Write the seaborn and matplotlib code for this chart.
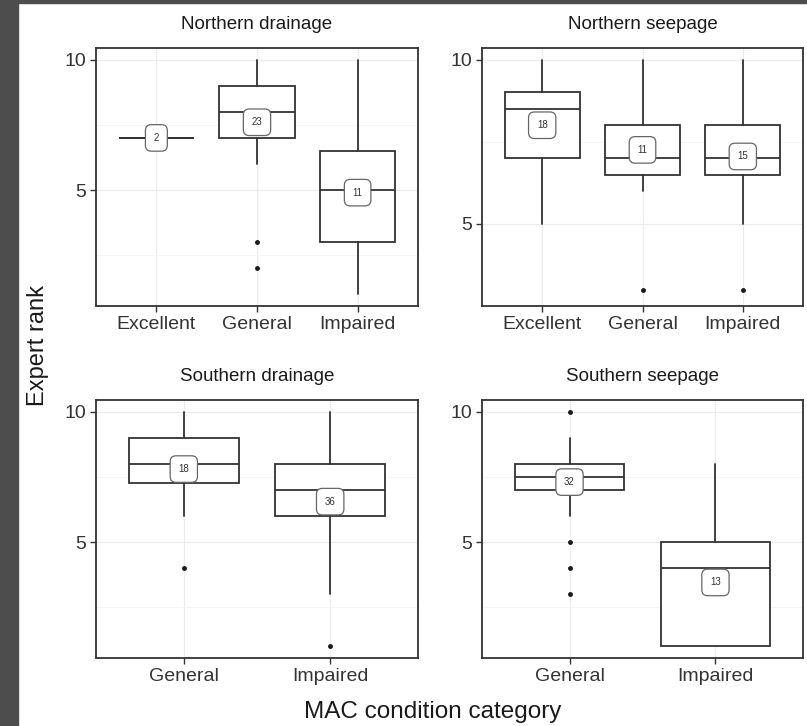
import matplotlib.pyplot as plt
import seaborn as sns
from matplotlib.patches import Rectangle

# values
panel_titles = ["Northern drainage", "Northern seepage", "Southern drainage", "Southern seepage"]
categories = [["Excellent", "General", "Impaired"],
              ["Excellent", "General", "Impaired"],
              ["General", "Impaired"],
              ["General", "Impaired"]]
q1 = [[7, 7, 3], [7, 6.5, 6.5], [7.25, 6], [7, 1]]
medians = [[7, 8, 5], [8.5, 7, 7], [8, 7], [7.5, 4]]
q3 = [[7, 9, 6.5], [9, 8, 8], [9, 8], [8, 5]]
whisker_lo = [[7, 6, 1], [5, 6, 5], [6, 3], [6, 1]]
whisker_hi = [[7, 10, 10], [10, 10, 10], [10, 10], [9, 8]]
outliers = [[[], [3, 2], []], [[], [3], [3]], [[4], [1]], [[10, 5, 4, 3], []]]
counts = [[2, 23, 11], [18, 11, 15], [18, 36], [32, 13]]
means = [[7, 7.6, 4.9], [8.0, 7.25, 7.05], [7.8, 6.55], [7.3, 3.45]]

W, H = 807, 726
panel_px = [(96, 48, 418, 306), (482, 48, 803, 306),
            (96, 400, 418, 658), (482, 400, 803, 658)]

sns.set_theme(style="whitegrid")
plt.rcParams['font.family'] = ['Liberation Sans', 'DejaVu Sans']

dark = "#333333"
fig = plt.figure(figsize=(W / 100, H / 100), dpi=100)
fig.patches.append(Rectangle((0, 0), 18 / W, 1, transform=fig.transFigure,
                             color="#4d4d4d", zorder=0))
fig.patches.append(Rectangle((0, 1 - 3 / H), 1, 3 / H, transform=fig.transFigure,
                             color="#4d4d4d", zorder=0))

for i, title in enumerate(panel_titles):
    x0, y0, x1, y1 = panel_px[i]
    ax = fig.add_axes([x0 / W, 1 - y1 / H, (x1 - x0) / W, (y1 - y0) / H])
    cats = categories[i]
    stats = []
    for j, cat in enumerate(cats):
        stats.append(dict(label=cat, med=medians[i][j], q1=q1[i][j], q3=q3[i][j],
                          whislo=whisker_lo[i][j], whishi=whisker_hi[i][j],
                          fliers=outliers[i][j]))
    pos = list(range(1, len(cats) + 1))
    ax.bxp(stats, positions=pos, widths=0.75, showcaps=False, patch_artist=True,
           boxprops=dict(facecolor="white", edgecolor=dark, linewidth=1.3),
           medianprops=dict(color=dark, linewidth=1.3),
           whiskerprops=dict(color=dark, linewidth=1.3),
           flierprops=dict(marker="o", markersize=2.5, markerfacecolor="#1a1a1a",
                           markeredgecolor="#1a1a1a"))
    for j, cat in enumerate(cats):
        ax.text(pos[j], means[i][j], str(counts[i][j]), ha="center", va="center",
                fontsize=7, color="#333333", zorder=6,
                bbox=dict(boxstyle="round,pad=0.85,rounding_size=0.6", fc="white",
                          ec="#666666", lw=0.9))

    vals = whisker_lo[i] + whisker_hi[i] + [v for o in outliers[i] for v in o]
    lo, hi = min(vals), max(vals)
    pad = 0.05 * (hi - lo)
    ax.set_ylim(lo - pad, hi + pad)
    ax.set_xlim(0.4, len(cats) + 0.6)
    ax.set_yticks([5, 10])
    ax.set_yticks([2.5, 7.5], minor=True)
    ax.set_xticks(pos)
    ax.set_xticklabels(cats)
    ax.grid(which="major", color="#ebebeb", linewidth=0.8)
    ax.grid(which="minor", axis="y", color="#f4f4f4", linewidth=0.6)
    ax.set_axisbelow(True)
    ax.tick_params(which="major", bottom=True, left=True, length=4, width=1,
                   color=dark, labelsize=14, labelcolor="#333333", pad=3)
    ax.tick_params(which="minor", length=0)
    for s in ax.spines.values():
        s.set_color(dark)
        s.set_linewidth(1.3)
    ax.set_title(title, fontsize=13.5, color="#1a1a1a", pad=14)

fig.text(38 / W, 1 - 345 / H, "Expert rank", rotation=90, ha="center", va="center",
         fontsize=17, color="#1a1a1a")
fig.text(433 / W, 1 - 712 / H, "MAC condition category", ha="center", va="center",
         fontsize=17.5, color="#1a1a1a")

fig.savefig("out.png", dpi=100, facecolor="white")
